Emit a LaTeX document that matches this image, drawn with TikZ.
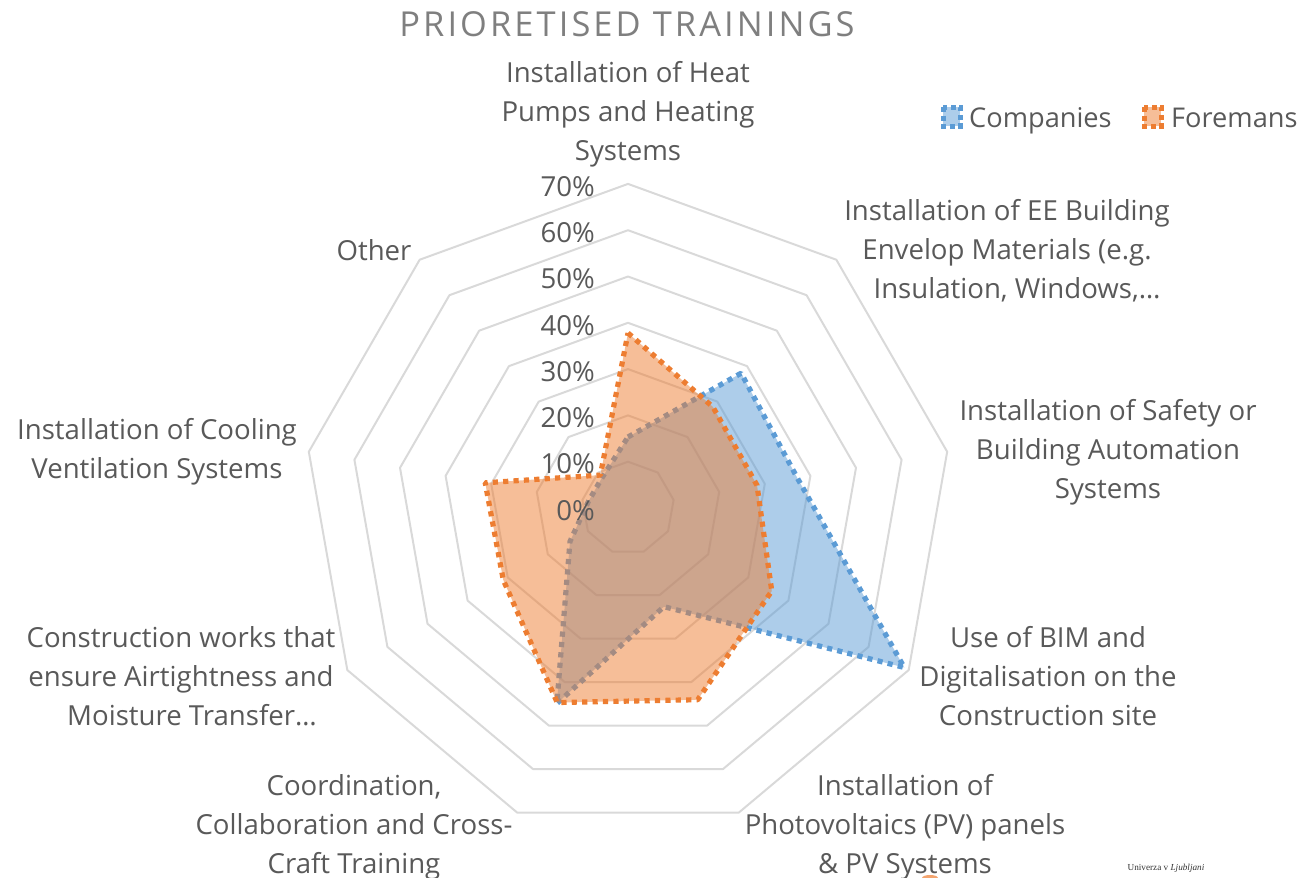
\documentclass[tikz,border=0pt]{standalone}
\usepackage{fontspec}
\usetikzlibrary{calc}
\setmainfont{Open Sans}
\newfontfamily\logofont{Liberation Serif}
\definecolor{txt}{HTML}{595959}
\definecolor{ttl}{HTML}{7F7F7F}
\definecolor{ringc}{HTML}{D9D9D9}
\definecolor{blues}{HTML}{5B9BD5}
\definecolor{orng}{HTML}{ED7D31}
\tikzset{
  lab/.style={text=txt,align=center,inner sep=0pt,font=\fontsize{27.6}{39}\selectfont},
  legtxt/.style={text=txt,inner sep=0pt,font=\fontsize{27.2}{39}\selectfont},
  tick/.style={text=txt,anchor=east,inner sep=0pt,font=\fontsize{27.6}{30}\selectfont},
  ring/.style={draw=ringc,line width=2pt,line join=round},
  blueser/.style={draw=blues,fill=blues,fill opacity=.5,draw opacity=1,line width=5.2pt,dash pattern=on 5.2pt off 5.2pt,line join=bevel},
  orangeser/.style={draw=orng,fill=orng,fill opacity=.5,draw opacity=1,line width=5.2pt,dash pattern=on 5.2pt off 5.2pt,line join=bevel},
  bluekey/.style={draw=blues,fill=blues,fill opacity=.5,draw opacity=1,line width=5pt,dash pattern=on 5pt off 3.5pt},
  orangekey/.style={draw=orng,fill=orng,fill opacity=.5,draw opacity=1,line width=5pt,dash pattern=on 5pt off 3.5pt},
}
\begin{document}
\begin{tikzpicture}[x=1pt,y=-1pt]
\useasboundingbox (0,0) rectangle (1299,878);
\coordinate (O) at (628,508);
% rings
\foreach \v in {1,...,7}{
  \coordinate (r0) at ($(O)+(0,-46.3*\v)$);
  \foreach \i in {1,...,8}{
    \coordinate (r\i) at ($(O)+({46.3*\v*sin(40*\i)},{-46.3*\v*cos(40*\i)})$);
  }
  \draw[ring] (r0)--(r1)--(r2)--(r3)--(r4)--(r5)--(r6)--(r7)--(r8)--cycle;
}
% companies
\foreach \i/\r in {0/71,1/176,2/172,3/319,4/105,5/208,6/67,7/40,8/40}{
  \coordinate (c\i) at ($(O)+({\r*sin(40*\i)},{-\r*cos(40*\i)})$);
}
\draw[blueser] (c0)--(c1)--(c2)--(c3)--(c4)--(c5)--(c6)--(c7)--(c8)--cycle;
% foremans
\foreach \i/\r in {0/175,1/132,2/131,3/166,4/204,5/207,6/144,7/145,8/43}{
  \coordinate (f\i) at ($(O)+({\r*sin(40*\i)},{-\r*cos(40*\i)})$);
}
\draw[orangeser] (f0)--(f1)--(f2)--(f3)--(f4)--(f5)--(f6)--(f7)--(f8)--cycle;
% axis ticks
\foreach \t/\y in {70/187,60/233,50/279,40/326,30/372,20/418,10/464,0/511}{
  \node[tick] (t\t) at (595,\y) {\t\%};
}
% category labels
\node[lab] (l0) at (628,114) {Installation of Heat\\Pumps and Heating\\Systems};
\node[lab] (l1) at (1007,251) {Installation of EE Building\\Envelop Materials (e.g.\\\hspace*{20pt}Insulation, Windows,…};
\node[lab] (l2) at (1108,452) {Installation of Safety or\\Building Automation\\Systems};
\node[lab] (l3) at (1048,676) {Use of BIM and\\Digitalisation on the\\Construction site};
\node[lab] (l4) at (905,827) {Installation of\\Photovoltaics (PV) panels\\\& PV Systems};
\node[lab] (l5) at (354,827) {Coordination,\\Collaboration and Cross-\\Craft Training};
\node[lab] (l6) at (181,676) {Construction works that\\ensure Airtightness and\\\hspace*{22pt}Moisture Transfer…};
\node[lab] (l7) at (157,452) {Installation of Cooling\\Ventilation Systems};
\node[lab] (l8) at (374,250) {Other};
% title
\node[inner sep=0pt,text=ttl,font=\fontsize{34.4}{38}\selectfont\addfontfeature{LetterSpace=9}] (title) at (627,24) {PRIORETISED TRAININGS};
% legend
\draw[bluekey] (943,107) rectangle (960,126);
\node[legtxt,anchor=base west] (k1) at (969,127) {Companies};
\draw[orangekey] (1144,107) rectangle (1161,126);
\node[legtxt,anchor=base west] (k2) at (1171,127) {Foremans};
% stray logo
\node[inner sep=0pt,text=black!80,font=\fontsize{9.2}{10}\logofont] (logo) at (1166,868) {Univerza v \textit{Ljubljani}};
\fill[orng!70!white] (922,878) arc[start angle=180,end angle=0,x radius=8pt,y radius=3pt] -- cycle;
\end{tikzpicture}
\end{document}
